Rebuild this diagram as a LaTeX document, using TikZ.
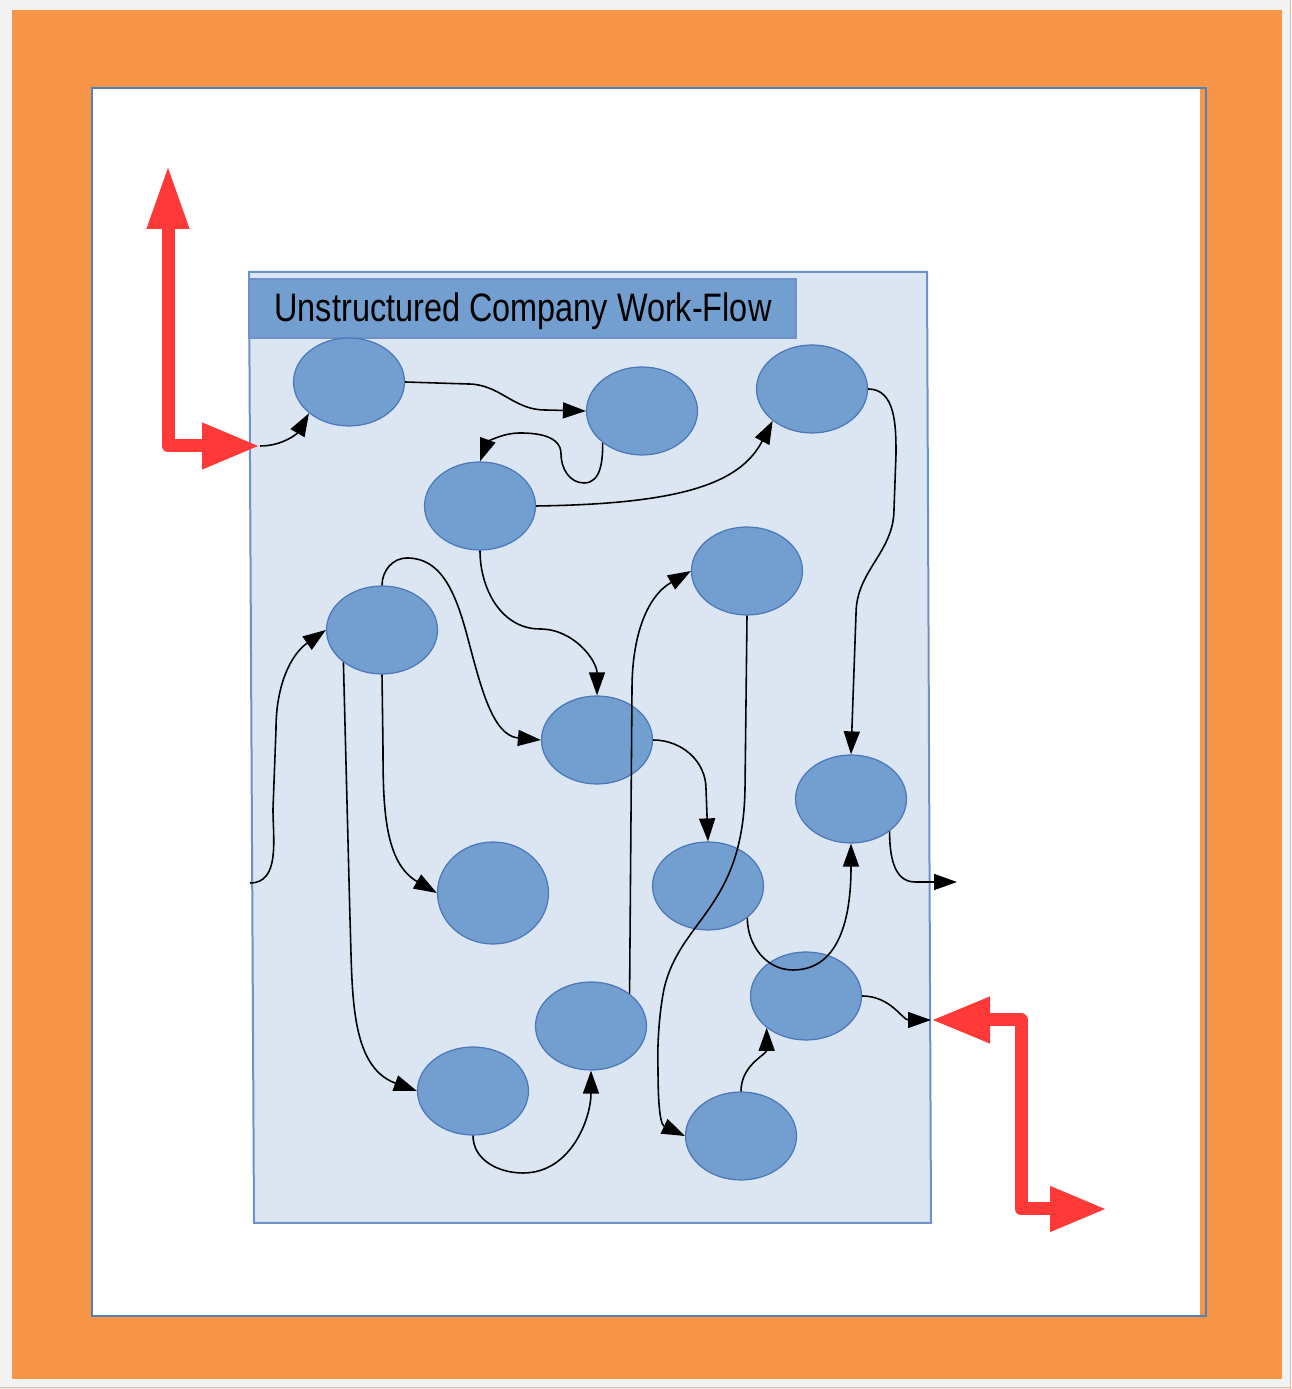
\documentclass[tikz,border=0pt]{standalone}
\usepackage{fontspec}
\setmainfont{Liberation Sans}
\usepackage{graphicx}
\usepackage{tikz}
\usetikzlibrary{shapes,arrows.meta}

\definecolor{frameorange}{RGB}{247,150,70}
\definecolor{pageblue}{RGB}{79,129,189}
\definecolor{poolfill}{RGB}{220,230,242}
\definecolor{pooledge}{RGB}{110,145,200}
\definecolor{taskfill}{RGB}{114,159,207}
\definecolor{taskedge}{RGB}{75,120,185}
\definecolor{flowred}{RGB}{255,56,56}

\tikzstyle{task} = [ellipse, draw=taskedge, fill=taskfill, line width=0.7pt, minimum width=2.22cm, inner sep=0pt]
\tikzstyle{flow} = [draw=black, line width=0.9pt, -{Triangle[length=0.46cm,width=0.32cm]}]
\tikzstyle{bigarrow} = [draw=flowred, line width=0.26cm, line join=round]

\begin{document}
\begin{tikzpicture}[x=0.02cm,y=0.02cm]
	\useasboundingbox (0,0) rectangle (1291,1389);
	\fill[black!5] (0,0) rectangle (1291,1389);
	\fill[frameorange] (12,10) rectangle (1282,1379);
	\fill[white] (92,74) rectangle (1200,1301);
	\draw[pageblue, line width=0.04cm] (92,73) rectangle (1206,1301);
	\draw[brown!50, line width=0.02cm] (1290,0) -- (1290,1389) (0,1) -- (1291,1);

	% pool with its title bar
	\draw[pooledge, fill=poolfill, line width=0.04cm] (249,1117) -- (927,1117) -- (931,166) -- (254,166) -- cycle;
	\node[draw=pooledge, fill=taskfill, line width=0.03cm, minimum width=10.94cm, minimum height=1.18cm, inner sep=0pt] (bar) at (522.5,1080.5) {};
	\node[anchor=base, inner sep=0pt] (title) at (523,1067)
		{\scalebox{0.817}[1]{\fontsize{22.6}{26}\selectfont Unstructured Company Work-Flow}};

	% tasks
	\foreach \n/\x/\y/\h in {1/349/1007/1.76, 2/642/978/1.76, 3/812/1000/1.76, 4/480/883/1.76,
		5/747/818/1.76, 6/382/759/1.76, 7/597/649/1.76, 8/851/590/1.76, 9/493/496/2.04,
		10/708/503/1.76, 11/806/393/1.76, 12/591/363/1.76, 13/473/298/1.76, 14/741/253/1.76}{
		\node[task, minimum height=\h cm] (T\n) at (\x,\y) {};
	}

	\coordinate (entry)    at (260,943);
	\coordinate (upTip)    at (168,1224);
	\coordinate (edgeIn)   at (250,506);
	\coordinate (edgeOut)  at (957,507);
	\coordinate (exitB)    at (931,369);
	\coordinate (downTip)  at (1107,180);

	% red in/out arrows
	\draw[bigarrow, {Triangle[length=1.28cm,width=0.78cm]}-{Triangle[length=1.16cm,width=0.86cm]}] (upTip) -- (168,943) -- (entry);
	\draw[bigarrow, {Triangle[length=1.18cm,width=0.86cm]}-{Triangle[length=1.14cm,width=0.84cm]}] (exitB) -- (1021,369) -- (1021,180) -- (downTip);

	% flows
	\draw[flow] (entry) to[out=0,in=240] (T1.218);
	\draw[flow] (T1.east) -- (468,1005) to[out=0,in=180] (545,979) -- (T2.west);
	\draw[flow] (T2.219) to[out=-90,in=0] (584,906) to[out=180,in=-90] (561,935) to[out=90,in=0] (520,956) to[out=180,in=70] (T4.north);
	\draw[flow] (T4.east) .. controls (680,885) and (740,905) .. (T3.219);
	\draw[flow] (T3.east) to[out=0,in=90] (896,935) -- (894,880) to[out=-90,in=90] (856,775) -- (T8.north);
	\draw[flow] (T4.south) to[out=-90,in=180] (540,760) to[out=0,in=90] (T7.north);
	\draw[flow] (T6.north) to[out=90,in=180] (407,831) .. controls (440,831) and (455,800) .. (468,750) to[out=-75,in=175] (T7.west);
	\draw[flow] (edgeIn) to[out=0,in=-90] (273,580) -- (276,660) to[out=90,in=215] (T6.west);
	\draw[flow] (T6.south) -- (383,640) to[out=-90,in=150] (T9.west);
	\draw[flow] (T6.220) -- (350,470) to[out=-88,in=160] (T13.west);
	\draw[flow] (T7.east) to[out=0,in=90] (706,600) -- (T10.north);
	\draw[flow] (T12.40) -- (632,700) to[out=90,in=210] (T5.west);
	\draw[flow] (T5.south) -- (745,600) .. controls (743,480) and (680,470) .. (664,400) .. controls (660,380) and (657,350) .. (658,320) to[out=-90,in=155] (T14.west);
	\draw[flow] (T10.-39) to[out=-90,in=180] (793,419) to[out=0,in=-90] (T8.south);
	\draw[flow] (T8.-40) to[out=-90,in=180] (915,507) -- (edgeOut);
	\draw[flow] (T11.east) to[out=0,in=180] (exitB);
	\draw[flow] (T14.north) to[out=90,in=-90] (T11.219);
	\draw[flow] (T13.south) to[out=-90,in=180] (523,216) to[out=0,in=-90] (T12.south);

\end{tikzpicture}
\end{document}
